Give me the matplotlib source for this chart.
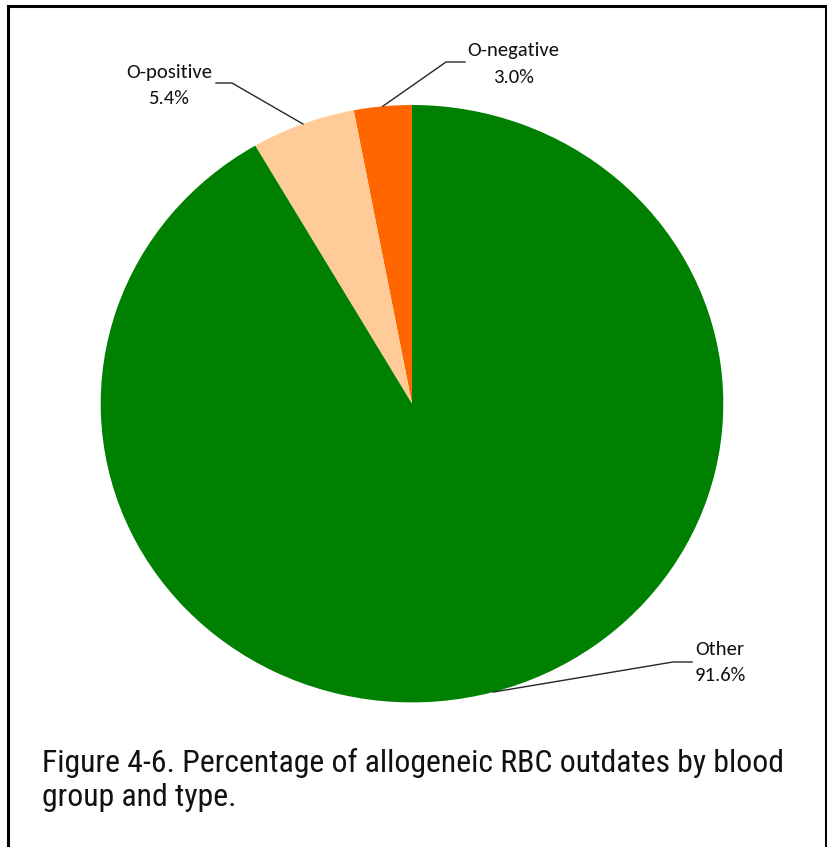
import matplotlib
matplotlib.use("Agg")
import matplotlib.pyplot as plt
from matplotlib import font_manager as fm
import numpy as np

# ---- data ----
categories = ["O-negative", "O-positive", "Other"]
values = [3.0, 5.4, 91.6]
value_labels = ["3.0%", "5.4%", "91.6%"]
colors = ["#FF6600", "#FFCC99", "#008000"]
title_lines = ["Figure 4-6. Percentage of allogeneic RBC outdates by blood",
               "group and type."]

W, H = 828, 847
fig = plt.figure(figsize=(W / 100, H / 100), dpi=100)
fig.patch.set_facecolor("white")

names = {f.name for f in fm.fontManager.ttflist}
if "Liberation Sans Narrow" in names:
    title_font = dict(family="Liberation Sans Narrow")
elif "Roboto Condensed" in names:
    title_font = dict(family="Roboto Condensed")
else:
    title_font = dict(family="DejaVu Sans", stretch="condensed")
label_family = "Carlito" if "Carlito" in names else "Open Sans"

# pie geometry in pixels
cx, cy, rx, ry = 412.0, 403.7, 311.3, 298.7
L = 1.3
ax = fig.add_axes([(cx - L * rx) / W, (H - cy - L * ry) / H,
                   2 * L * rx / W, 2 * L * ry / H])
wedges, _ = ax.pie(values, colors=colors, startangle=90, counterclock=True,
                   radius=1.0, wedgeprops=dict(linewidth=0))
ax.set_aspect("auto")
ax.set_xlim(-L, L)
ax.set_ylim(-L, L)
ax.axis("off")


def px2d(x, y):
    return (x - cx) / rx, (cy - y) / ry


# overlay axes in pixel coords
ov = fig.add_axes([0, 0, 1, 1], zorder=-1)
ov.set_xlim(0, W)
ov.set_ylim(H, 0)
ov.axis("off")

# frame
ov.plot([8, 8, 826, 826], [H + 5, 6, 6, H + 5], color="black", lw=2.2,
        solid_joinstyle="miter", clip_on=False)

renderer = fig.canvas.get_renderer()


def fit_size(text, family_kw, target_w, base=20):
    t = fig.text(0, 0, text, fontsize=base, **family_kw)
    w = t.get_window_extent(renderer).width
    t.remove()
    return base * target_w / w

# title
tsize = fit_size(title_lines[0], title_font, 741)
ov.text(42, 772, title_lines[0], fontsize=tsize, va="baseline", ha="left",
        color="#111111", **title_font)
ov.text(42, 806, title_lines[1], fontsize=tsize, va="baseline", ha="left",
        color="#111111", **title_font)

lsize = fit_size("O-negative", dict(family=label_family), 92)

# label layout (pixels): text center x, baselines, leader elbow & end
layout = {
    "O-negative": dict(x=513, b1=56, b2=83, elbow=(446, 62), end=(465, 62)),
    "O-positive": dict(x=169, b1=78, b2=104, elbow=(232, 83), end=(216, 83)),
    "Other": dict(x=720, b1=655, b2=681, elbow=(673, 662), end=(692, 662)),
}

for w, cat, vl in zip(wedges, categories, value_labels):
    lay = layout[cat]
    ang = np.deg2rad((w.theta1 + w.theta2) / 2)
    p0 = (np.cos(ang), np.sin(ang))
    p1 = px2d(*lay["elbow"])
    p2 = px2d(*lay["end"])
    ax.plot([p0[0], p1[0], p2[0]], [p0[1], p1[1], p2[1]], color="#262626",
            lw=1.0, clip_on=False, zorder=3)
    ov.text(lay["x"], lay["b1"], cat, fontsize=lsize, family=label_family,
            ha="center", va="baseline", color="#111111")
    ov.text(lay["x"], lay["b2"], vl, fontsize=lsize, family=label_family,
            ha="center", va="baseline", color="#111111")

fig.savefig("out.png", dpi=100, facecolor="white")
